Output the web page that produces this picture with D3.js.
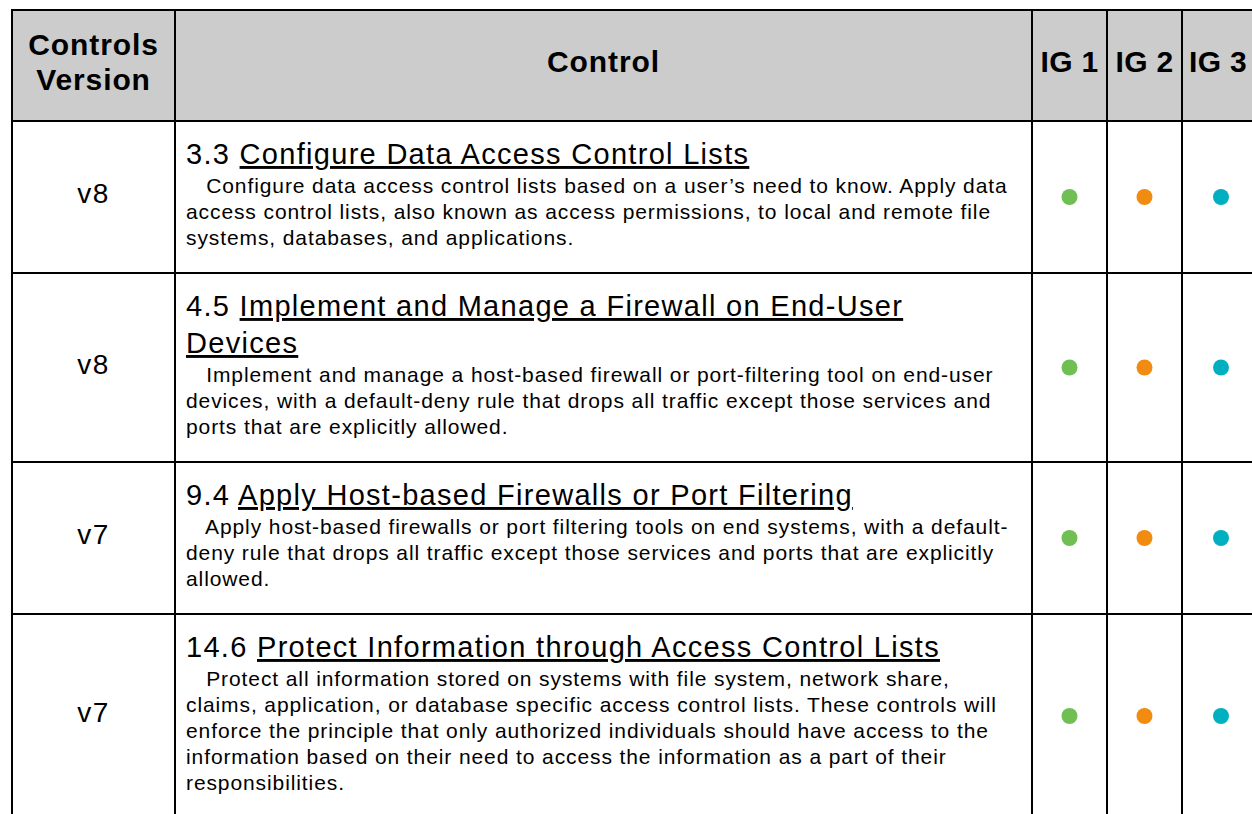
<!DOCTYPE html>
<html><head><meta charset="utf-8">
<script src="https://cdn.jsdelivr.net/npm/d3@7"></script>
<style>
html,body{margin:0;padding:0;background:#fff;}
svg{display:block;font-family:"Liberation Sans",Arial,sans-serif;}
</style></head>
<body>
<svg id="chart" width="1252" height="814"></svg>
<script>
// ---- data ----
const headers = ["Controls\nVersion", "Control", "IG 1", "IG 2", "IG 3"];
const versions = ["v8", "v8", "v7", "v7"];
const ids = ["3.3", "4.5", "9.4", "14.6"];
const titleLines = [
  ["Configure Data Access Control Lists"],
  ["Implement and Manage a Firewall on End-User", "Devices"],
  ["Apply Host-based Firewalls or Port Filtering"],
  ["Protect Information through Access Control Lists"]
];
const descLines = [
  ["   Configure data access control lists based on a user\u2019s need to know. Apply data",
   "access control lists, also known as access permissions, to local and remote file",
   "systems, databases, and applications."],
  ["   Implement and manage a host-based firewall or port-filtering tool on end-user",
   "devices, with a default-deny rule that drops all traffic except those services and",
   "ports that are explicitly allowed."],
  ["   Apply host-based firewalls or port filtering tools on end systems, with a default-",
   "deny rule that drops all traffic except those services and ports that are explicitly",
   "allowed."],
  ["   Protect all information stored on systems with file system, network share,",
   "claims, application, or database specific access control lists. These controls will",
   "enforce the principle that only authorized individuals should have access to the",
   "information based on their need to access the information as a part of their",
   "responsibilities."]
];
const ig1 = [true, true, true, true];
const ig2 = [true, true, true, true];
const ig3 = [true, true, true, true];
const igColors = ["#70bf54", "#f28c11", "#00b0c1"];

// ---- layout ----
const svg = d3.select("#chart");
const colEdges = [12, 175, 1032, 1107, 1182, 1262];
const top0 = 10, headH = 111;
const titleLH = 37, descLH = 26;
const rowHeights = titleLines.map((t, i) => 43 + (t.length - 1) * titleLH + 29 + (descLines[i].length - 1) * descLH + 28);
const rowTops = [];
let acc = top0 + headH;
rowHeights.forEach(h => { rowTops.push(acc); acc += h; });

// header background
svg.append("rect").attr("x", colEdges[0]).attr("y", top0)
  .attr("width", colEdges[5] - colEdges[0]).attr("height", headH).attr("fill", "#cccccc");

// header text
headers.forEach((h, i) => {
  const cx = (colEdges[i] + colEdges[i + 1]) / 2;
  const lines = h.split("\n");
  const cy = top0 + headH / 2;
  const t = svg.append("text").attr("text-anchor", "middle")
    .attr("font-size", 30).attr("font-weight", "bold").attr("fill", "#000")
    .attr("letter-spacing", i >= 2 ? 0.3 : 0.9);
  lines.forEach((l, k) => {
    t.append("tspan").attr("x", i === 4 ? cx - 4 : cx)
      .attr("y", cy + 6.5 + (k - (lines.length - 1) / 2) * 35).text(l);
  });
});

// rows
versions.forEach((v, i) => {
  const top = rowTops[i], h = rowHeights[i];
  svg.append("text").attr("x", (colEdges[0] + colEdges[1]) / 2).attr("y", top + h / 2 + 6)
    .attr("text-anchor", "middle").attr("font-size", 28).attr("letter-spacing", 1.5)
    .attr("fill", "#000").text(v);

  const tx = 186;
  let y = top + 43;
  titleLines[i].forEach((line, k) => {
    const t = svg.append("text").attr("x", tx).attr("y", y).attr("font-size", 29)
      .attr("letter-spacing", 1.3).attr("fill", "#000");
    if (k === 0) t.append("tspan").text(ids[i] + " ");
    t.append("tspan").attr("text-decoration", "underline").text(line);
    if (k < titleLines[i].length - 1) y += titleLH;
  });
  y += 29;
  descLines[i].forEach((line, k) => {
    svg.append("text").attr("x", tx).attr("y", y + k * descLH).attr("font-size", 21)
      .attr("letter-spacing", 0.9)
      .attr("fill", "#000").attr("xml:space", "preserve").style("white-space", "pre").text(line);
  });

  [ig1[i], ig2[i], ig3[i]].forEach((on, j) => {
    if (!on) return;
    svg.append("circle").attr("cx", (colEdges[j + 2] + colEdges[j + 3]) / 2 + (j === 2 ? -1 : 0))
      .attr("cy", top + h / 2).attr("r", 8).attr("fill", igColors[j]);
  });
});

// grid lines
const bottom = acc;
const g = svg.append("g").attr("stroke", "#000").attr("stroke-width", 2);
colEdges.slice(0, 5).forEach(x => g.append("line").attr("x1", x).attr("x2", x).attr("y1", top0).attr("y2", bottom));
[top0, top0 + headH, ...rowTops.slice(1), bottom].forEach(y =>
  g.append("line").attr("x1", colEdges[0] - 1).attr("x2", 1252).attr("y1", y).attr("y2", y));
</script>
</body></html>
